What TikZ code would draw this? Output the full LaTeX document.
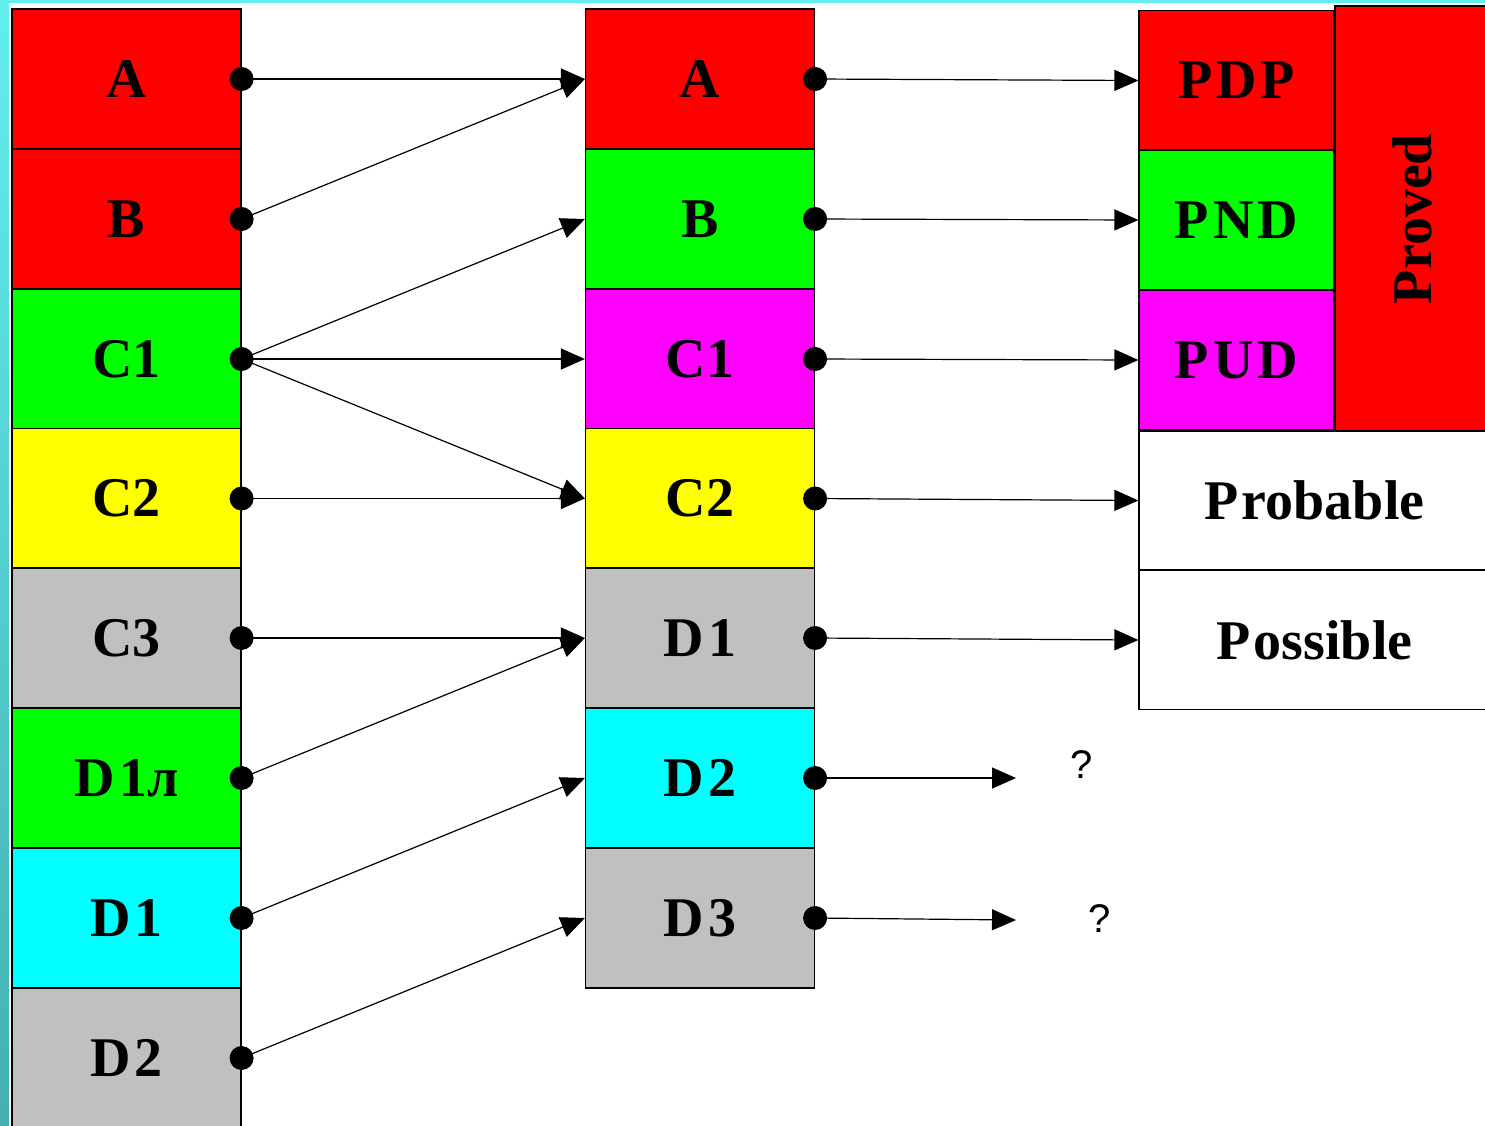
\documentclass[tikz,border=0pt]{standalone}
\usepackage{fontspec}
\setmainfont{Liberation Serif}
\newfontfamily\qfont{Liberation Sans}
\usetikzlibrary{arrows.meta}
\definecolor{cred}{RGB}{255,0,0}
\definecolor{cgreen}{RGB}{0,255,0}
\definecolor{cmag}{RGB}{255,0,255}
\definecolor{cyel}{RGB}{255,255,0}
\definecolor{cgray}{RGB}{192,192,192}
\definecolor{ccyan}{RGB}{0,255,255}
\definecolor{stripTop}{RGB}{98,238,238}
\definecolor{stripBot}{RGB}{68,176,176}
\begin{document}
\begin{tikzpicture}[x=1pt,y=-1pt,
  cell/.style={draw=black, line width=1.2pt, inner sep=0pt, text=black,
    font=\bfseries\fontsize{56}{60}\selectfont},
  colcell/.style={cell, minimum width=229pt, minimum height=140pt},
  pcell/.style={cell, minimum width=195pt, minimum height=140pt},
  wcell/.style={cell, fill=white, minimum width=351pt, minimum height=139pt},
  conn/.style={line width=1.2pt, -{Triangle[length=24pt,width=21pt]}},
  dotmark/.style={fill=black},
  qmark/.style={font=\qfont\fontsize{40}{44}\selectfont, inner sep=0pt}]
\useasboundingbox (0,0) rectangle (1485,1125);
\fill[white] (0,0) rectangle (1485,1125);
\fill[stripTop] (0,0) rectangle (1485,3);
\shade[top color=stripTop, bottom color=stripBot] (0,0) rectangle (9,1125);

% left column
\node[colcell, fill=cred]   (L1) at (126.5,79)   {A};
\node[colcell, fill=cred]   (L2) at (126.5,219)  {B};
\node[colcell, fill=cgreen] (L3) at (126.5,359)  {C1};
\node[colcell, fill=cyel]   (L4) at (126.5,498.5){C2};
\node[colcell, fill=cgray]  (L5) at (126.5,638)  {C3};
\node[colcell, fill=cgreen] (L6) at (126.5,778)  {D\hspace{5pt}1л};
\node[colcell, fill=ccyan]  (L7) at (126.5,918)  {D\hspace{4pt}1};
\node[colcell, fill=cgray]  (L8) at (126.5,1058) {D\hspace{4pt}2};

% middle column
\node[colcell, fill=cred]   (M1) at (700,79)    {A};
\node[colcell, fill=cgreen] (M2) at (700,219)   {B};
\node[colcell, fill=cmag]   (M3) at (700,359)   {C1};
\node[colcell, fill=cyel]   (M4) at (700,498.5) {C2};
\node[colcell, fill=cgray]  (M5) at (700,638)   {D\hspace{4pt}1};
\node[colcell, fill=ccyan]  (M6) at (700,778)   {D\hspace{4pt}2};
\node[colcell, fill=cgray]  (M7) at (700,918)   {D\hspace{4pt}3};

% right column
\node[pcell, fill=cred]   (R1) at (1236.5,80.5) {P\hspace{4pt}D\hspace{4pt}P};
\node[pcell, fill=cgreen] (R2) at (1236.5,220)  {P\hspace{4pt}N\hspace{4pt}D};
\node[pcell, fill=cmag]   (R3) at (1236.5,360)  {P\hspace{4pt}U\hspace{4pt}D};
\node[cell, fill=cred, minimum width=155pt, minimum height=426pt] (PR) at (1412.5,219) {};
\node[cell, draw=none, rotate=90] (PRT) at (PR.center) {Proved};
\node[wcell] (R4) at (1314.5,500.5) {P\hspace{3pt}robable};
\node[wcell] (R5) at (1314.5,640)   {P\hspace{3pt}ossible};

\coordinate (Q1) at (1016,778);
\coordinate (Q2) at (1016,920);
\node[qmark] (T1) at (1082,765) {?};
\node[qmark] (T2) at (1100,919) {?};

% connectors left -> middle
\draw[conn] (L1.east) -- (M1.west);
\draw[conn] (L2.east) -- (M1.west);
\draw[conn] (L3.east) -- (M2.west);
\draw[conn] (L3.east) -- (M3.west);
\draw[conn] (L3.east) -- (M4.west);
\draw[conn] (L4.east) -- (M4.west);
\draw[conn] (L5.east) -- (M5.west);
\draw[conn] (L6.east) -- (M5.west);
\draw[conn] (L7.east) -- (M6.west);
\draw[conn] (L8.east) -- (M7.west);

% connectors middle -> right
\draw[conn] (M1.east) -- (R1.west);
\draw[conn] (M2.east) -- (R2.west);
\draw[conn] (M3.east) -- (R3.west);
\draw[conn] (M4.east) -- (R4.west);
\draw[conn] (M5.east) -- (R5.west);
\draw[conn] (M6.east) -- (Q1);
\draw[conn] (M7.east) -- (Q2);

% dots
\foreach \n in {L1,L2,L3,L4,L5,L6,L7,L8,M1,M2,M3,M4,M5,M6,M7}
  \fill[dotmark] (\n.east) circle (12pt);
\end{tikzpicture}
\end{document}
